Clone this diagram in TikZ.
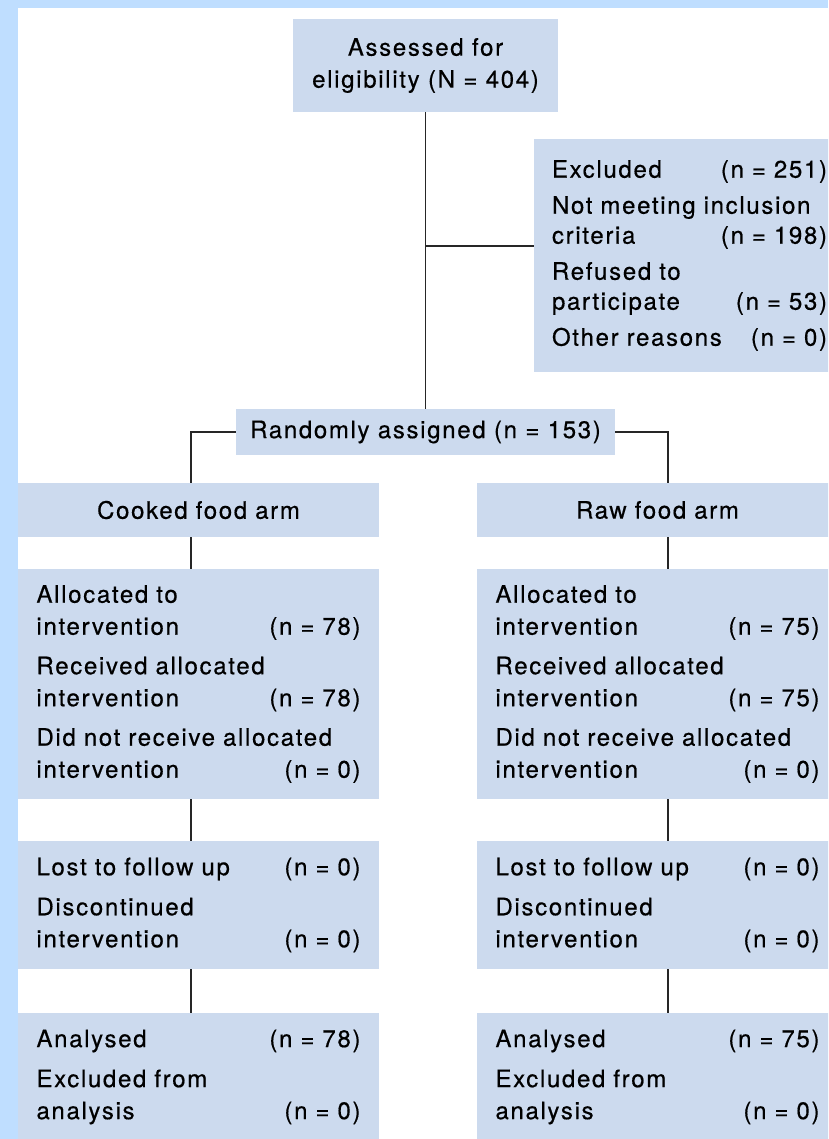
\documentclass[tikz,border=0pt]{standalone}
\usepackage{fontspec}
\setmainfont{TeX Gyre Heros}[LetterSpace=7, FakeBold=0.5]
\definecolor{stripblue}{RGB}{191,222,255}
\definecolor{boxblue}{RGB}{204,218,238}

\begin{document}
\begin{tikzpicture}[x=1pt, y=-1pt,
    box/.style={fill=boxblue, inner sep=0pt, font=\fontsize{24}{32}\selectfont},
    armbox/.style={box, minimum width=361pt, text width=324pt, align=left},
    link/.style={line width=1.3pt, black!85}]
  \useasboundingbox (0,0) rectangle (828,1139);
  \clip (0,0) rectangle (828,1139);
  \fill[stripblue] (0,0) rectangle (828,1139);
  \fill[white] (18,8) rectangle (828,1139);

  % top part
  \node[box, minimum width=265pt, minimum height=93pt, align=center] (assess) at (425.5,65.5)
    {Assessed for\\eligibility (N = 404)};
  \node[box, minimum width=311pt, minimum height=233pt, text width=275pt, align=left,
        font=\fontsize{24}{30}\selectfont] (excl) at (689.5,255.5)
    {Excluded\hfill(n = 251)\\[6pt]
     Not meeting inclusion\\ criteria\hfill(n = 198)\\[6pt]
     Refused to\\ participate\hfill(n = 53)\\[6pt]
     Other reasons\hfill(n = 0)};
  \node[box, minimum width=379pt, minimum height=46pt] (rand) at (425.5,432)
    {Randomly assigned (n = 153)};
  \coordinate (split) at (425.5,246);
  \draw[link] (assess) -- (rand);
  \draw[link] (split) -- (split -| excl.west);

  % the two arms
  \foreach \arm/\cx/\ax/\dir/\food/\num in {C/198.5/191/west/Cooked/78, R/657.5/668/east/Raw/75} {
    \coordinate (ax\arm) at (\ax,0);
    \node[armbox, minimum height=54pt, align=center] (arm\arm) at (\cx,510) {\food{} food arm};
    \node[armbox, minimum height=230pt] (alloc\arm) at (\cx,684)
      {Allocated to\\ intervention\hfill(n = \num)\\[7.5pt]
       Received allocated\\ intervention\hfill(n = \num)\\[7.5pt]
       Did not receive allocated\\ intervention\hfill(n = 0)};
    \node[armbox, minimum height=128pt] (lost\arm) at (\cx,905)
      {Lost to follow up\hfill(n = 0)\\[8pt]
       Discontinued\\ intervention\hfill(n = 0)};
    \node[armbox, minimum height=128pt] (anal\arm) at (\cx,1077)
      {Analysed\hfill(n = \num)\\[8pt]
       Excluded from\\ analysis\hfill(n = 0)};
    \draw[link] (rand.\dir) -| (arm\arm.north -| ax\arm);
    \draw[link] (arm\arm.south -| ax\arm) -- (alloc\arm.north -| ax\arm);
    \draw[link] (alloc\arm.south -| ax\arm) -- (lost\arm.north -| ax\arm);
    \draw[link] (lost\arm.south -| ax\arm) -- (anal\arm.north -| ax\arm);
  }
\end{tikzpicture}
\end{document}
